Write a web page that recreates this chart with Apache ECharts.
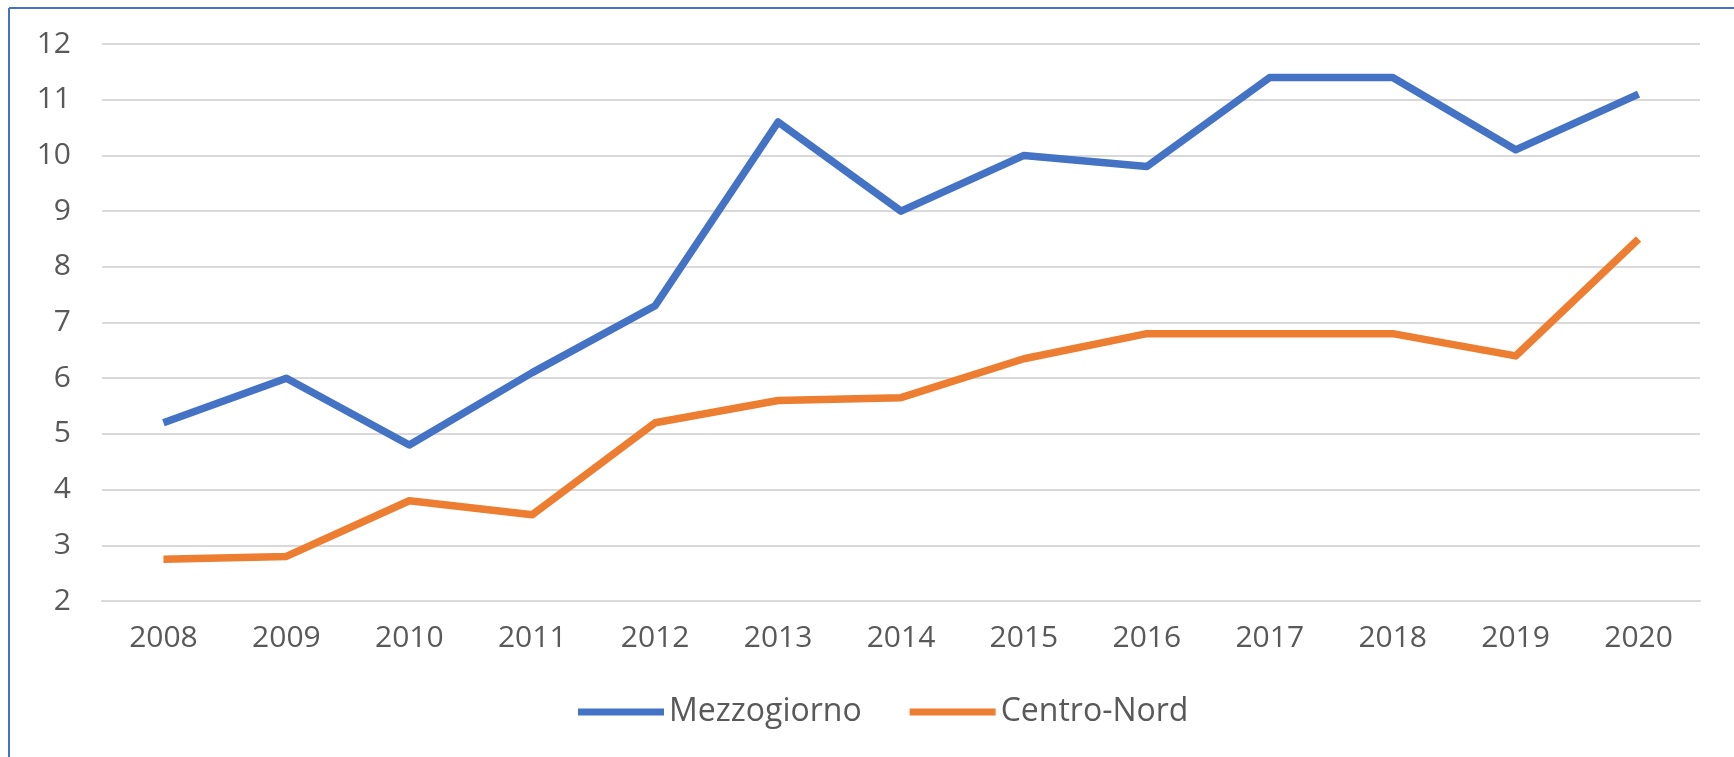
<!DOCTYPE html>
<html>
<head>
<meta charset="utf-8">
<script src="https://cdn.jsdelivr.net/npm/echarts@6/dist/echarts.min.js"></script>
<style>
  html, body { margin: 0; padding: 0; background: #fff; }
  #chart { width: 1734px; height: 757px; }
</style>
</head>
<body>
<div id="chart"></div>
<script>
// dati
const years = ["2008", "2009", "2010", "2011", "2012", "2013", "2014",
  "2015", "2016", "2017", "2018", "2019", "2020"];
const mezzogiorno = [5.2, 6.0, 4.8, 6.1, 7.3, 10.6, 9.0, 10.0, 9.8, 11.4, 11.4, 10.1, 11.1];
const centroNord = [2.75, 2.8, 3.8, 3.55, 5.2, 5.6, 5.65, 6.35, 6.8, 6.8, 6.8, 6.4, 8.5];
const seriesNames = ["Mezzogiorno", "Centro-Nord"];

const font = "'Open Sans', 'Liberation Sans', sans-serif";
const textColor = "#595959";

const chart = echarts.init(document.getElementById("chart"));
let option = {
  animation: false,
  graphic: [
    {
      type: "line",
      shape: { x1: 9, y1: 8, x2: 1734, y2: 8 },
      style: { stroke: "#4472C4", lineWidth: 2 },
    },
    {
      type: "line",
      shape: { x1: 9, y1: 8, x2: 9, y2: 757 },
      style: { stroke: "#4472C4", lineWidth: 2 },
    },
  ],
  legend: {
    data: seriesNames,
    left: 573,
    top: 691,
    icon: "rect",
    itemWidth: 86,
    itemHeight: 7,
    itemGap: 48,
    textStyle: { color: textColor, fontSize: 32, fontFamily: font },
  },
  grid: {
    left: 102,
    right: 34,
    top: 44,
    bottom: 156,
  },
  xAxis: {
    type: "category",
    boundaryGap: true,
    data: years,
    axisLine: { lineStyle: { color: "#d9d9d9", width: 2 } },
    axisTick: { show: false },
    axisLabel: {
      color: textColor,
      fontSize: 30,
      fontFamily: font,
      margin: 22,
    },
  },
  yAxis: {
    type: "value",
    min: 2,
    max: 12,
    interval: 1,
    axisLine: { show: false },
    axisTick: { show: false },
    splitLine: { lineStyle: { color: "#d9d9d9", width: 2 } },
    axisLabel: {
      color: textColor,
      fontSize: 30,
      fontFamily: font,
      margin: 31,
    },
  },
  series: [
    {
      name: seriesNames[0],
      type: "line",
      data: mezzogiorno,
      symbol: "none",
      itemStyle: { color: "#4472C4" },
      lineStyle: { color: "#4472C4", width: 7.5, join: "round" },
    },
    {
      name: seriesNames[1],
      type: "line",
      data: centroNord,
      symbol: "none",
      itemStyle: { color: "#ED7D31" },
      lineStyle: { color: "#ED7D31", width: 7.5, join: "round" },
    },
  ],
};
chart.setOption(option, true);
</script>
</body>
</html>
